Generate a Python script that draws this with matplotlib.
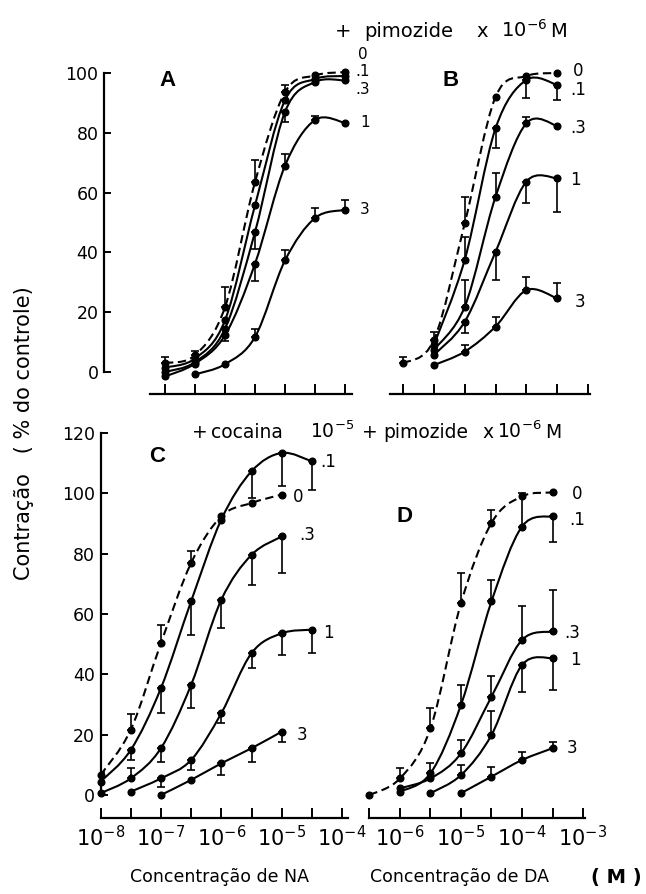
import numpy as np
import matplotlib.pyplot as plt
from matplotlib.path import Path
from matplotlib.patches import PathPatch

nan = np.nan

# pimozide doses (x 10^-6 M), first one is the control (dashed)
doses = ['0', '.1', '.3', '1', '3']

# A: NA, no cocaine   (x = log10 of molar concentration)
a_x = [-7, -6.5, -6, -5.5, -5, -4.5, -4]
a_y = [[3, 5.6, 21.7, 63.5, 93.6, 99.2, 100.3],
       [1.5, 4.5, 17.3, 55.7, 90.9, 98, 99],
       [0, 3.3, 14.5, 46.8, 87, 97, 97.5],
       [-1.5, 2.8, 12.3, 36.2, 69, 84.3, 83.3],
       [nan, -0.8, 2.6, 11.7, 37.3, 51.5, 54.2]]
a_err = [[5, 7, 28.5, 71, 96, nan, nan],
         [nan, nan, nan, nan, nan, nan, nan],
         [nan, nan, nan, 41, 83.5, nan, nan],
         [nan, nan, 10.5, 30.5, 73, 85.5, nan],
         [nan, nan, nan, 14.5, 40.7, 54.8, 57.5]]

# B: DA, no cocaine
b_x = [-6, -5.5, -5, -4.5, -4, -3.5]
b_y = [[2.9, 10.7, 49.7, 92, 99, 100],
       [nan, 9.0, 37.5, 81.5, 97.7, 96],
       [nan, 7.4, 21.8, 58.6, 83.2, 82.3],
       [nan, 5.7, 16.8, 40.2, 63.7, 64.8],
       [nan, 2.3, 6.8, 15.2, 27.4, 24.6]]
b_err = [[5, 13.5, 58.6, nan, nan, nan],
         [nan, nan, 45, 74.8, 91.5, 91],
         [nan, nan, 30.8, 66.4, 85.4, nan],
         [nan, nan, 12.9, 30.8, 56.4, 53.6],
         [nan, nan, 9, 18.5, 31.9, 29.7]]

# C: NA + cocaine 10^-5 M
c_x = [-8, -7.5, -7, -6.5, -6, -5.5, -5, -4.5]
c_y = [[6.6, 21.6, 50.3, 76.9, 92.4, 96.8, 99.6, nan],
       [4.4, 14.9, 35.4, 64.2, 91.3, 107.3, 113.4, 110.6],
       [0.6, 5.5, 15.5, 36.5, 64.7, 79.6, 85.7, nan],
       [nan, 1.1, 5.5, 11.6, 27.1, 47, 53.6, 54.8],
       [nan, nan, 0, 5, 10.5, 15.5, 21, nan]]
c_err = [[7.7, 27, 56.4, 80.8, nan, nan, nan, nan],
         [nan, 11.5, 27.1, 53.1, nan, 98.5, 102.3, 101.2],
         [nan, 8.8, 11, 28.8, 55.3, 69.7, 73.6, nan],
         [nan, nan, 2.8, 8.3, 23.8, 42, 46.5, 47],
         [nan, nan, nan, nan, 6.6, 11, 17.7, nan]]

# D: DA + cocaine 10^-5 M
d_x = [-6.5, -6, -5.5, -5, -4.5, -4, -3.5]
d_y = [[0, 5.5, 22.1, 63.6, 90.2, 99, 100.3],
       [nan, 1.1, 7.2, 29.9, 64.2, 89, 92.4],
       [nan, 2.2, 5.5, 13.8, 32.6, 51.4, 54.2],
       [nan, nan, 0.6, 6.6, 19.9, 43.1, 45.4],
       [nan, nan, nan, 0.6, 6.1, 11.6, 15.5]]
d_err = [[nan, 8.8, 28.8, 73.6, 94.6, nan, nan],
         [nan, nan, 10.5, 36.5, 71.3, 100, 84],
         [nan, nan, nan, 18.3, 39.3, 62.5, 68],
         [nan, nan, nan, 10, 27.7, 34.3, 34.8],
         [nan, nan, nan, nan, 9.4, 14.4, 17.7]]

W, H = 646, 894
fig = plt.figure(figsize=(W / 100, H / 100), dpi=100)


def box(x0, y0, x1, y1):
    # pixel box (top-left origin) -> figure fraction
    return [x0 / W, 1 - y1 / H, (x1 - x0) / W, (y1 - y0) / H]


def smooth(ax, xs, ys, dashed):
    # catmull-rom through the points, drawn as a bezier path
    pts = list(zip(xs, ys))
    verts, codes = [pts[0]], [Path.MOVETO]
    n = len(pts)
    for i in range(n - 1):
        p0, p1, p2, p3 = pts[max(i - 1, 0)], pts[i], pts[i + 1], pts[min(i + 2, n - 1)]
        c1 = (p1[0] + (p2[0] - p0[0]) / 6, p1[1] + (p2[1] - p0[1]) / 6)
        c2 = (p2[0] - (p3[0] - p1[0]) / 6, p2[1] - (p3[1] - p1[1]) / 6)
        verts += [c1, c2, p2]
        codes += [Path.CURVE4] * 3
    ls = (0, (4, 2.2)) if dashed else '-'
    ax.add_patch(PathPatch(Path(verts, codes), fill=False, lw=1.5, ls=ls,
                           ec='k', clip_on=False))


def draw(ax, xs, curves, errs):
    xs = np.array(xs, float)
    for k in range(len(curves)):
        ys = np.array(curves[k], float)
        es = np.array(errs[k], float)
        ok = ~np.isnan(ys)
        smooth(ax, xs[ok], ys[ok], k == 0)
        ax.plot(xs[ok], ys[ok], 'o', ms=4.8, color='k', clip_on=False, zorder=3)
        m = ~np.isnan(es)
        if m.any():
            lo = np.clip(ys[m] - es[m], 0, None)
            hi = np.clip(es[m] - ys[m], 0, None)
            ax.errorbar(xs[m], ys[m], yerr=[lo, hi], fmt='none', ecolor='k',
                        elinewidth=1.2, capsize=3, capthick=1.2)


def style(ax, left):
    for s in ['top', 'right']:
        ax.spines[s].set_visible(False)
    ax.spines['bottom'].set_linewidth(1.6)
    ax.spines['left'].set_linewidth(1.6)
    ax.tick_params(axis='x', which='both', direction='in', length=7, width=1.4)
    ax.tick_params(axis='y', direction='in', length=5, width=1.4, labelsize=12.5, pad=4)
    if not left:
        ax.spines['left'].set_visible(False)
        ax.set_yticks([])
    ax.patch.set_visible(False)


def labels(ax, pos, size=12):
    for d, (x, y) in zip(doses, pos):
        ax.text(x, y, d, fontsize=size, ha='center', va='center', clip_on=False)


# panel A
ax = fig.add_axes(box(104, 73, 360, 394))
ax.set_xlim(-7 + (104 - 165) / 60, -7 + (360 - 165) / 60)
ax.set_ylim((372 - 394) / 2.99, 100)
style(ax, True)
ax.spines['left'].set_bounds(0, 100)
ax.spines['bottom'].set_bounds(-7.25, -3.88)
ax.set_yticks([0, 20, 40, 60, 80, 100])
ax.set_xticks(a_x)
ax.set_xticklabels([])
draw(ax, a_x, a_y, a_err)
labels(ax, [(-3.7, 106.2), (-3.7, 100.5), (-3.7, 94.5), (-3.67, 83.3), (-3.67, 54.2)], 11)

# panel B
ax = fig.add_axes(box(380, 73, 610, 394))
ax.set_xlim(-6 + (380 - 403) / 61.7, -6 + (610 - 403) / 61.7)
ax.set_ylim((372 - 394) / 2.99, 100)
style(ax, False)
ax.spines['bottom'].set_bounds(-6.21, -2.97)
ax.set_xticks([-6, -5.5, -5, -4.5, -4, -3.5, -3])
ax.set_xticklabels([])
draw(ax, b_x, b_y, b_err)
labels(ax, [(-3.16, 100.7), (-3.16, 94.3), (-3.16, 81.6), (-3.2, 64.2), (-3.13, 23.5)])

# panel C
ax = fig.add_axes(box(100.5, 433, 360, 818))
ax.set_xlim(-8, -8 + (360 - 100.5) / 60.4)
ax.set_ylim((795 - 818) / 3.017, 120)
style(ax, True)
ax.spines['left'].set_bounds(0, 120)
ax.spines['bottom'].set_bounds(-8, -3.9)
ax.set_yticks([0, 20, 40, 60, 80, 100, 120])
ax.set_xticks([-8, -7, -6, -5, -4],
              [r'$\mathregular{10^{%d}}$' % e for e in [-8, -7, -6, -5, -4]])
ax.set_xticks([-7.5, -6.5, -5.5, -4.5], minor=True)
ax.tick_params(axis='x', labelsize=15, pad=5)
draw(ax, c_x, c_y, c_err)
cl = [(-4.73, 98.8), (-4.23, 110.4), (-4.58, 86.2), (-4.23, 53.7), (-4.66, 19.9)]
labels(ax, cl)

# panel D
ax = fig.add_axes(box(360, 433, 610, 818))
ax.set_xlim(-6 + (360 - 400) / 61, -6 + (610 - 400) / 61)
ax.set_ylim((795 - 818) / 3.017, 120)
style(ax, False)
ax.spines['bottom'].set_bounds(-6.5, -2.97)
ax.set_xticks([-6, -5, -4, -3],
              [r'$\mathregular{10^{%d}}$' % e for e in [-6, -5, -4, -3]])
ax.set_xticks([-6.5, -5.5, -4.5, -3.5], minor=True)
ax.tick_params(axis='x', labelsize=15, pad=5)
draw(ax, d_x, d_y, d_err)
labels(ax, [(-3.1, 99.8), (-3.1, 91.2), (-3.18, 53.7), (-3.13, 44.7), (-3.18, 15.6)])


def put(pieces, y, size):
    for x, s in pieces:
        fig.text(x / W, 1 - y / H, s, fontsize=size, ha='left', va='baseline')


put([(335, '+'), (364, 'pimozide'), (476, 'x'),
     (501, r'$\mathregular{10^{-6}}$'), (550, 'M')], 37, 14)
put([(192, '+'), (211, 'cocaina'), (310, r'$\mathregular{10^{-5}}$'),
     (362, '+'), (383, 'pimozide'), (482, 'x'),
     (497, r'$\mathregular{10^{-6}}$'), (545, 'M')], 438, 13.5)

for s, x, y in [('A', 167, 81), ('B', 451, 80), ('C', 157, 457), ('D', 404, 517)]:
    fig.text(x / W, 1 - y / H, s, fontsize=16, fontweight='bold',
             family='Liberation Sans', ha='center', va='center')

fig.text(24 / W, 1 - 433 / H, 'Contração   ( % do controle)', rotation=90,
         fontsize=15, ha='center', va='center')
fig.text(220 / W, 1 - 877 / H, 'Concentração de NA', fontsize=12.5,
         ha='center', va='center')
fig.text(460 / W, 1 - 877 / H, 'Concentração de DA', fontsize=12.5,
         ha='center', va='center')
fig.text(616 / W, 1 - 877 / H, '( M )', fontsize=14, fontweight='bold',
         ha='center', va='center')

fig.savefig('out.png', dpi=100)
